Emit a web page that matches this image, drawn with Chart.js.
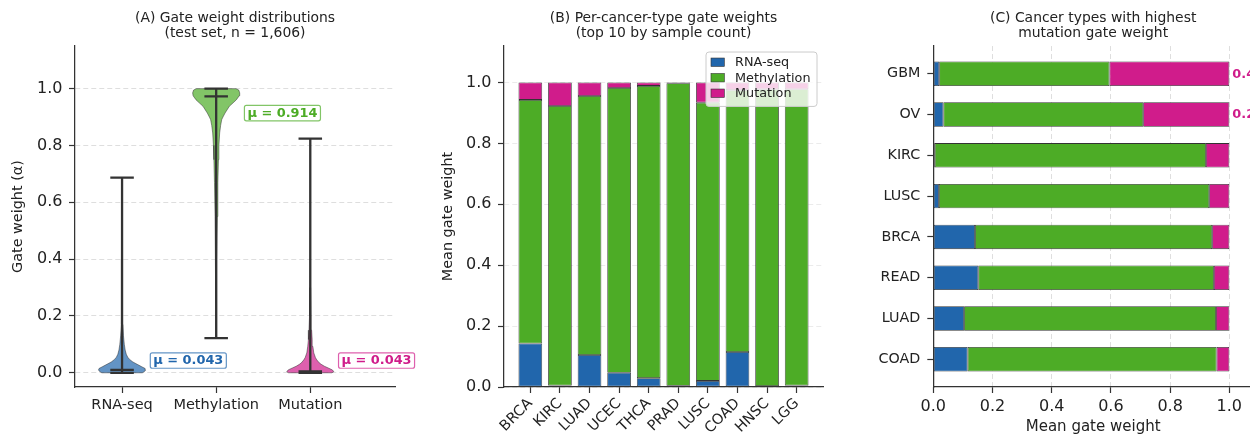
<!DOCTYPE html>
<html>
<head>
<meta charset="utf-8">
<script src="https://cdn.jsdelivr.net/npm/chart.js@4.4.1/dist/chart.umd.min.js"></script>
<style>
  html, body { margin: 0; padding: 0; background: #fff; overflow: hidden; }
  body { width: 1250px; height: 436px; position: relative; }
  canvas { position: absolute; top: 0; }
</style>
</head>
<body>
<canvas id="panelA" width="430" height="436" style="left:0px"></canvas>
<canvas id="panelB" width="410" height="436" style="left:430px"></canvas>
<canvas id="panelC" width="460" height="436" style="left:840px"></canvas>
<script>
// ---- data ----
const modalities = ['RNA-seq', 'Methylation', 'Mutation'];
const modalityColors = ['#2166ac', '#4dac26', '#d01c8b'];
const violinFills = ['rgba(33,102,172,0.7)', 'rgba(77,172,38,0.7)', 'rgba(208,28,139,0.7)'];

// (A) violin outlines: [gate weight, half width]
const rnaViolin = [[0.000, 0.215], [0.005, 0.24], [0.010, 0.25], [0.015, 0.245], [0.022, 0.205],
  [0.030, 0.16], [0.038, 0.115], [0.047, 0.08], [0.055, 0.06], [0.065, 0.045], [0.080, 0.033],
  [0.100, 0.024], [0.130, 0.015], [0.170, 0.009], [0.250, 0.004], [0.400, 0.002], [0.687, 0.0]];
const methViolin = [[0.122, 0.0], [0.250, 0.003], [0.400, 0.007], [0.550, 0.012], [0.670, 0.018],
  [0.750, 0.024], [0.800, 0.029], [0.844, 0.037], [0.870, 0.047], [0.891, 0.059], [0.900, 0.072],
  [0.914, 0.094], [0.925, 0.115], [0.938, 0.14], [0.950, 0.18], [0.961, 0.215], [0.975, 0.245],
  [0.985, 0.25], [0.995, 0.24], [1.000, 0.21]];
const mutViolin = [[0.000, 0.23], [0.004, 0.25], [0.010, 0.235], [0.017, 0.19], [0.023, 0.15],
  [0.030, 0.115], [0.035, 0.095], [0.045, 0.07], [0.053, 0.055], [0.070, 0.037], [0.093, 0.027],
  [0.117, 0.02], [0.150, 0.014], [0.200, 0.008], [0.300, 0.004], [0.500, 0.002], [0.824, 0.0]];
const whiskerMin = [0.0, 0.122, 0.0];
const whiskerMax = [0.687, 1.0, 0.824];
const medians = [0.010, 0.973, 0.005];
const means = [0.043, 0.914, 0.043];
const gateTicks = [0, 0.2, 0.4, 0.6, 0.8, 1.0];

// (B) top 10 cancer types by sample count
const cancerB = ['BRCA', 'KIRC', 'LUAD', 'UCEC', 'THCA', 'PRAD', 'LUSC', 'COAD', 'HNSC', 'LGG'];
const rnaB = [0.143, 0.005, 0.105, 0.047, 0.029, 0.004, 0.020, 0.115, 0.003, 0.005];
const methB = [0.800, 0.918, 0.851, 0.935, 0.960, 0.994, 0.914, 0.860, 0.975, 0.973];
const mutB = [0.057, 0.077, 0.044, 0.018, 0.011, 0.002, 0.066, 0.025, 0.022, 0.022];

// (C) cancer types with highest mutation gate weight
const cancerC = ['GBM', 'OV', 'KIRC', 'LUSC', 'BRCA', 'READ', 'LUAD', 'COAD'];
const rnaC = [0.020, 0.034, 0.005, 0.019, 0.141, 0.152, 0.104, 0.116];
const methC = [0.575, 0.675, 0.916, 0.913, 0.801, 0.796, 0.851, 0.841];
const mutC = [0.405, 0.291, 0.079, 0.068, 0.058, 0.052, 0.045, 0.043];
const weightTicks = [0, 0.2, 0.4, 0.6, 0.8, 1.0];

// ---- shared style ----
Chart.defaults.font.family = "'DejaVu Sans', sans-serif";
Chart.defaults.color = '#222';
const spine = { color: '#333', width: 1.25 };
const tickMarks = { tickLength: 6, tickColor: '#333', tickWidth: 1.2, offset: false };

function titleOpts(lines) {
  return {
    display: true, text: lines, fullSize: false, color: '#222',
    font: { size: 13.9, weight: 'normal', lineHeight: 1.08 },
    padding: { top: 10.8, bottom: 5.2 }
  };
}

function outline(profile, center) {
  const right = profile.map(([y, w]) => ({ x: center + w, y: y }));
  const left = profile.slice().reverse().map(([y, w]) => ({ x: center - w, y: y }));
  return right.concat(left, [right[0]]);
}

function whisker(i) {
  const c = i + 1, cw = 0.125;
  return [
    { x: c - cw, y: whiskerMax[i] }, { x: c + cw, y: whiskerMax[i] }, { x: c, y: null },
    { x: c, y: whiskerMax[i] }, { x: c, y: whiskerMin[i] }, { x: c, y: null },
    { x: c - cw, y: whiskerMin[i] }, { x: c + cw, y: whiskerMin[i] }, { x: c, y: null },
    { x: c - cw, y: medians[i] }, { x: c + cw, y: medians[i] }
  ];
}

// ---- (A) violins ----
const violinSets = [rnaViolin, methViolin, mutViolin].map((p, i) => ({
  data: outline(p, i + 1), fill: 'shape', backgroundColor: violinFills[i],
  borderColor: 'rgba(40,40,40,0.55)', borderWidth: 0.9, pointRadius: 0, tension: 0, order: 2
}));
const whiskerSets = modalities.map((m, i) => ({
  data: whisker(i), borderColor: '#333', borderWidth: 2.3, pointRadius: 0, fill: false, order: 1
}));

const meanLabels = {
  id: 'meanLabels',
  afterDatasetsDraw(chart) {
    const { ctx, scales } = chart;
    ctx.save();
    ctx.font = "bold 12.9px 'DejaVu Sans'";
    ctx.textBaseline = 'middle';
    means.forEach((m, i) => {
      const txt = 'μ = ' + m.toFixed(3);
      const x = scales.x.getPixelForValue(i + 1.3);
      const y = scales.y.getPixelForValue(m);
      const w = ctx.measureText(txt).width + 6;
      ctx.beginPath();
      ctx.roundRect(x, y - 7.7, w, 15.4, 2);
      ctx.fillStyle = 'rgba(255,255,255,0.9)';
      ctx.fill();
      ctx.lineWidth = 1.2;
      ctx.strokeStyle = violinFills[i];
      ctx.stroke();
      ctx.fillStyle = modalityColors[i];
      ctx.fillText(txt, x + 3, y + 0.5);
    });
    ctx.restore();
  }
};

new Chart(document.getElementById('panelA'), {
  type: 'line',
  data: { datasets: whiskerSets.concat(violinSets) },
  options: {
    responsive: false, animation: false,
    layout: { padding: { left: 0, right: 35, top: 0, bottom: 0 } },
    plugins: {
      legend: { display: false }, tooltip: { enabled: false },
      title: titleOpts(['(A) Gate weight distributions', '(test set, n = 1,606)'])
    },
    scales: {
      x: {
        type: 'linear', min: 0.5, max: 3.9,
        afterBuildTicks: s => { s.ticks = modalities.map((m, i) => ({ value: i + 1 })); },
        afterFit: s => { s.height = 49; },
        ticks: { callback: v => modalities[v - 1], font: { size: 14.5 }, padding: 4, autoSkip: false, maxRotation: 0 },
        grid: Object.assign({ drawOnChartArea: false }, tickMarks),
        border: spine
      },
      y: {
        type: 'linear', min: -0.05, max: 1.15,
        afterBuildTicks: s => { s.ticks = gateTicks.map(v => ({ value: v })); },
        afterFit: s => { s.width = 75; },
        ticks: { callback: v => v.toFixed(1), font: { size: 16 }, padding: 6.5 },
        grid: Object.assign({ color: 'rgba(0,0,0,0.13)', lineWidth: 1 }, tickMarks),
        border: Object.assign({ dash: [5, 3] }, spine),
        title: { display: true, text: 'Gate weight (α)', font: { size: 14.4 }, padding: { top: 9.7, bottom: 0 } }
      }
    }
  },
  plugins: [meanLabels]
});

// ---- (B) stacked bars ----
const barEdge = { borderColor: '#333', borderWidth: 0.8, borderSkipped: false, barPercentage: 1 };
const seriesB = [rnaB, methB, mutB];

const boxedLegend = {
  id: 'boxedLegend',
  afterDraw(chart) {
    const { ctx, chartArea } = chart;
    const w = 111, h = 54.4;
    const x0 = chartArea.right - 6 - w, y0 = chartArea.top + 6;
    ctx.save();
    ctx.beginPath();
    ctx.roundRect(x0, y0, w, h, 3);
    ctx.fillStyle = 'rgba(255,255,255,0.8)';
    ctx.fill();
    ctx.strokeStyle = '#cccccc';
    ctx.lineWidth = 1;
    ctx.stroke();
    ctx.font = "12.8px 'DejaVu Sans'";
    ctx.textBaseline = 'middle';
    chart.data.datasets.forEach((ds, i) => {
      const cy = y0 + 10.2 + i * 15.5;
      ctx.fillStyle = ds.backgroundColor;
      ctx.fillRect(x0 + 5, cy - 4.2, 13.3, 8.4);
      ctx.strokeStyle = '#333';
      ctx.lineWidth = 0.6;
      ctx.strokeRect(x0 + 5, cy - 4.2, 13.3, 8.4);
      ctx.fillStyle = '#222';
      ctx.fillText(ds.label, x0 + 29, cy + 0.5);
    });
    ctx.restore();
  }
};

new Chart(document.getElementById('panelB'), {
  type: 'bar',
  data: {
    datasets: modalities.map((m, k) => Object.assign({
      label: m, backgroundColor: modalityColors[k], categoryPercentage: 0.8,
      data: seriesB[k].map((v, i) => ({ x: i, y: v }))
    }, barEdge))
  },
  options: {
    responsive: false, animation: false,
    layout: { padding: { left: 0, right: 410 - 393, top: 0, bottom: 0 } },
    plugins: {
      legend: { display: false }, tooltip: { enabled: false },
      title: titleOpts(['(B) Per-cancer-type gate weights', '(top 10 by sample count)'])
    },
    scales: {
      x: {
        type: 'linear', min: -0.89, max: 9.89, stacked: true, offset: false,
        afterBuildTicks: s => { s.ticks = cancerB.map((c, i) => ({ value: i })); },
        afterFit: s => { s.height = 49; },
        ticks: { callback: v => cancerB[v], font: { size: 14.5 }, minRotation: 45, maxRotation: 45, autoSkip: false, padding: 2 },
        grid: Object.assign({ drawOnChartArea: false }, tickMarks),
        border: spine
      },
      y: {
        type: 'linear', min: 0, max: 1.12, stacked: true,
        afterBuildTicks: s => { s.ticks = gateTicks.map(v => ({ value: v })); },
        afterFit: s => { s.width = 74; },
        ticks: { callback: v => v.toFixed(1), font: { size: 16 }, padding: 6.5 },
        grid: Object.assign({ color: 'rgba(0,0,0,0.08)', lineWidth: 1 }, tickMarks),
        border: Object.assign({ dash: [5, 3] }, spine),
        title: { display: true, text: 'Mean gate weight', font: { size: 14.4 }, padding: { top: 9.7, bottom: 0 } }
      }
    }
  },
  plugins: [boxedLegend]
});

// ---- (C) horizontal stacked bars ----
const seriesC = [rnaC, methC, mutC];

const mutLabels = {
  id: 'mutLabels',
  afterDatasetsDraw(chart) {
    const { ctx, scales } = chart;
    ctx.save();
    ctx.font = "bold 12.9px 'DejaVu Sans'";
    ctx.textBaseline = 'middle';
    ctx.fillStyle = modalityColors[2];
    mutC.forEach((v, i) => {
      if (v < 0.1) return;
      ctx.fillText(v.toFixed(3), scales.x.getPixelForValue(1.01), scales.y.getPixelForValue(i) + 0.5);
    });
    ctx.restore();
  }
};

new Chart(document.getElementById('panelC'), {
  type: 'bar',
  data: {
    datasets: modalities.map((m, k) => Object.assign({
      label: m, backgroundColor: modalityColors[k], categoryPercentage: 0.6,
      data: seriesC[k].map((v, i) => ({ x: v, y: i }))
    }, barEdge))
  },
  options: {
    indexAxis: 'y',
    responsive: false, animation: false,
    layout: { padding: { left: 0, right: 47, top: 0, bottom: 0 } },
    plugins: {
      legend: { display: false }, tooltip: { enabled: false },
      title: titleOpts(['(C) Cancer types with highest', 'mutation gate weight'])
    },
    scales: {
      x: {
        type: 'linear', min: 0, max: 1.08, stacked: true,
        afterBuildTicks: s => { s.ticks = weightTicks.map(v => ({ value: v })); },
        afterFit: s => { s.height = 49; },
        ticks: { callback: v => v.toFixed(1), font: { size: 16 }, padding: 4, maxRotation: 0 },
        grid: Object.assign({ color: 'rgba(0,0,0,0.13)', lineWidth: 1 }, tickMarks),
        border: Object.assign({ dash: [5, 3] }, spine),
        title: { display: true, text: 'Mean gate weight', font: { size: 15 }, padding: { top: 0, bottom: 0.3 } }
      },
      y: {
        type: 'linear', min: -0.68, max: 7.68, reverse: true, stacked: true, offset: false,
        afterBuildTicks: s => { s.ticks = cancerC.map((c, i) => ({ value: i })); },
        afterFit: s => { s.width = 93.3; },
        ticks: { callback: v => cancerC[v], font: { size: 14.3 }, padding: 7, autoSkip: false },
        grid: Object.assign({ drawOnChartArea: false }, tickMarks),
        border: spine
      }
    }
  },
  plugins: [mutLabels]
});
</script>
</body>
</html>
